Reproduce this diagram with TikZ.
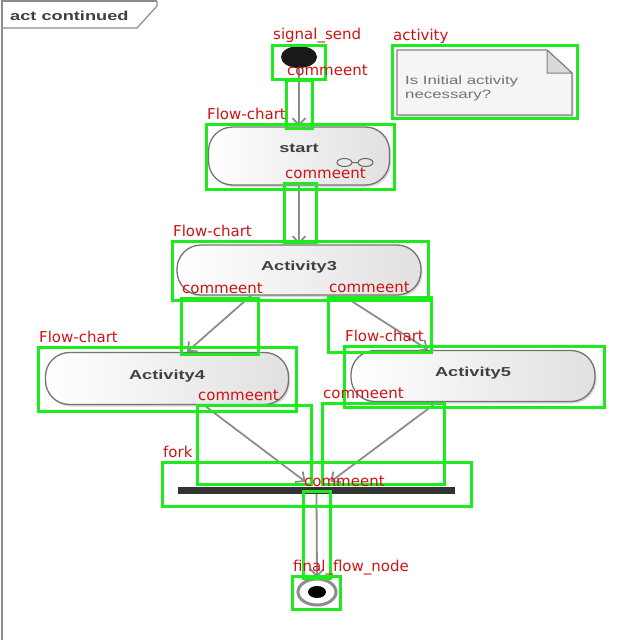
\documentclass[tikz,border=0pt]{standalone}
\usepackage{fontspec}
\setmainfont{Liberation Sans}
\newfontfamily\umlfont[FakeStretch=1.4]{Liberation Sans}
\newfontfamily\tagfont{DejaVu Sans}
\usetikzlibrary{shapes,arrows.meta,calc,backgrounds,shadows}
\definecolor{boxgreen}{RGB}{30,235,30}
\definecolor{tagred}{RGB}{205,20,20}

\begin{document}
\begin{tikzpicture}[x=1pt,y=-1pt]

\tikzstyle{act} = [draw=black!55, line width=1.3pt, rounded corners=24pt,
    left color=white, right color=black!12, inner sep=0,
    text height=10pt, text depth=9pt, text=black!75,
    drop shadow={opacity=0.3,shadow xshift=1.5pt,shadow yshift=-2pt},
    font=\umlfont\fontsize{13}{13}\selectfont\bfseries]
\tikzstyle{flow} = [draw=black!45, line width=1.8pt,
    -{Straight Barb[length=7pt,width=13pt]}]
\tikzstyle{ann} = [draw=boxgreen, line width=3pt]
\tikzstyle{tag} = [text=tagred, anchor=base west, inner sep=0,
    font=\tagfont\fontsize{15}{15}\selectfont]

\useasboundingbox (0,0) rectangle (640,640);

% =========================
% frame and its title tab
% =========================
\draw[black!45, line width=1.5pt] (2,640) -- (2,1) -- (157,1);
\draw[black!45, line width=1.2pt] (2,28) -- (137,28) -- (157,6) -- (157,1);
\node[anchor=base west, inner sep=0, text=black!75,
    font=\umlfont\fontsize{13}{13}\selectfont\bfseries] (frametitle) at (10,20) {act continued};

% =========================
% activity nodes
% =========================
\node[ellipse, fill=black!90, minimum width=36pt, minimum height=22pt, inner sep=0] (signal) at (299,57) {};

\node[act, minimum width=181pt, minimum height=58pt, text depth=17pt] (start) at (299,156) {start};
\draw[black!60, line width=1pt]
    ($(start.center)+(45.5,6.5)$) ellipse [x radius=7.5, y radius=4]
    ($(start.center)+(66.5,6.5)$) ellipse [x radius=7.5, y radius=4]
    ($(start.center)+(53,6.5)$) -- ($(start.center)+(59,6.5)$);

\node[act, minimum width=244pt, minimum height=50pt] (act3) at (299,270) {Activity3};
\node[act, minimum width=243pt, minimum height=52pt] (act4) at (167,378.5) {Activity4};
\node[act, minimum width=244pt, minimum height=51pt] (act5) at (473,376) {Activity5};

\node[fill=black!80, minimum width=277pt, minimum height=7pt, inner sep=0] (fork) at (316.5,490.5) {};

\node[ellipse, draw=black!45, line width=3pt, fill=white, minimum width=38pt,
    minimum height=26pt, inner sep=0] (final) at (317,592) {};
\node[ellipse, fill=black, minimum width=18pt, minimum height=12pt, inner sep=0] (finaldot) at (final.center) {};

% note
\draw[fill=black!4, draw=black!50, line width=1.3pt,
    drop shadow={opacity=0.3,shadow xshift=1.5pt,shadow yshift=-2pt}]
    (397,50) -- (547,50) -- (572,73) -- (572,115) -- (397,115) -- cycle;
\draw[fill=black!15, draw=black!50, line width=1pt] (547,50) -- (547,73) -- (572,73) -- cycle;
\node[anchor=north west, align=left, inner sep=0, text=black!55,
    font=\umlfont\fontsize{12}{14}\selectfont] (note) at (405,76) {Is Initial activity\\necessary?};

% =========================
% control flows
% =========================
\draw[flow] (signal.south) -- (start.north);
\draw[flow] (start.south) -- (act3.north);
\draw[flow] ($(act3.south)+(-48,0)$) -- ($(act4.north)+(20,0)$);
\draw[flow] ($(act3.south)+(44,0)$) -- ($(act5.north)+(-45,0)$);
\draw[flow] ($(act4.south)+(37,0)$) -- ($(fork.north)+(-11,-5)$);
\draw[flow] ($(act5.south)+(-36,0)$) -- ($(fork.north)+(14,-5)$);
\draw[flow] (fork.south) -- (final.north);

% =========================
% annotation boxes and tags
% =========================
\draw[ann] (272,45) rectangle (325,79);
\node[tag] (tag1) at (273,39) {signal\_send};
\draw[ann] (286,80) rectangle (312,128);
\node[tag] (tag2) at (287,75) {commeent};
\draw[ann] (206,124) rectangle (394,189);
\node[tag] (tag3) at (207,119) {Flow-chart};
\draw[ann] (392,45) rectangle (577,118);
\node[tag] (tag4) at (393,40) {activity};
\draw[ann] (284,183) rectangle (316,242);
\node[tag] (tag5) at (285,178) {commeent};
\draw[ann] (172,241) rectangle (428,300);
\node[tag] (tag6) at (173,236) {Flow-chart};
\draw[ann] (181,298) rectangle (258,354);
\node[tag] (tag7) at (182,293) {commeent};
\draw[ann] (328,297) rectangle (431,352);
\node[tag] (tag8) at (329,292) {commeent};
\draw[ann] (38,347) rectangle (296,411);
\node[tag] (tag9) at (39,342) {Flow-chart};
\draw[ann] (344,346) rectangle (604,407);
\node[tag] (tag10) at (345,341) {Flow-chart};
\draw[ann] (197,405) rectangle (311,484);
\node[tag] (tag11) at (198,400) {commeent};
\draw[ann] (322,403) rectangle (444,484);
\node[tag] (tag12) at (323,398) {commeent};
\draw[ann] (162,462) rectangle (471,506);
\node[tag] (tag13) at (163,457) {fork};
\draw[ann] (303,491) rectangle (330,578);
\node[tag] (tag14) at (304,486) {commeent};
\draw[ann] (292,576) rectangle (340,609);
\node[tag] (tag15) at (293,571) {final\_flow\_node};

\end{tikzpicture}
\end{document}
